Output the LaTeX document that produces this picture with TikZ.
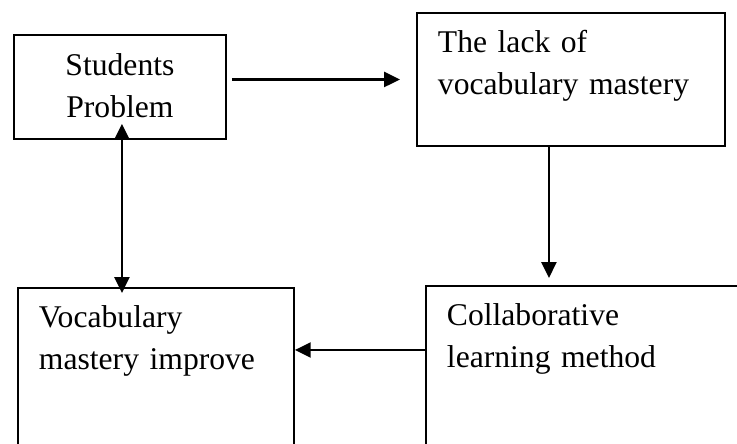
\documentclass[tikz,border=0pt]{standalone}
\usepackage{fontspec}
\setmainfont{Liberation Serif}
\usetikzlibrary{
    arrows.meta,
    positioning
}

\begin{document}
\begin{tikzpicture}[x=0.02cm, y=-0.02cm,
        blk/.style={draw, line width=1.1pt, anchor=north west, align=left,
            inner xsep=0.42cm, inner ysep=0pt, text height=0.8cm,
            font=\fontsize{18}{23.5}\selectfont},
        arr/.style={line width=1.4pt, -{Triangle[length=9pt, width=8.5pt]}},
        dbl/.style={line width=1.4pt, {Triangle[length=9pt, width=8.5pt]}-{Triangle[length=9pt, width=8.5pt]}}]
                        \useasboundingbox (0, 0) rectangle (737, 443);
                        \clip (0, 0) rectangle (737, 443);
                        \node[blk, align=center, inner xsep=0.2cm, text width=3.84cm, text height=0.82cm, text depth=1.26cm] (sp) at (13, 34) {Students\\Problem};
                        \node[blk, text width=5.32cm, text depth=1.86cm] (lvm) at (416, 12) {The lack of\\vocabulary mastery};
                        \node[blk, text width=4.68cm, text depth=3.2cm] (vmi) at (17, 287) {Vocabulary\\mastery improve};
                        \node[blk, text width=6.16cm, text depth=3.2cm] (clm) at (425, 285) {Collaborative\\learning method};
                        \coordinate (lm) at ([yshift=-1.3cm]clm.north west);
                        \draw
                        (sp.east |- lvm.west) edge[arr, shorten <=0.1cm, shorten >=0.32cm] (lvm.west)
                        ([xshift=-0.44cm]lvm.south) edge[arr, shorten >=0.14cm] ([xshift=-0.44cm]lvm.south |- clm.north)
                        ([xshift=0.04cm]sp.south) edge[dbl, shorten <=-0.32cm, shorten >=-0.12cm] ([xshift=0.04cm]sp.south |- vmi.north)
                        (lm) edge[arr] (vmi.east |- lm);
                    \end{tikzpicture}
\end{document}
